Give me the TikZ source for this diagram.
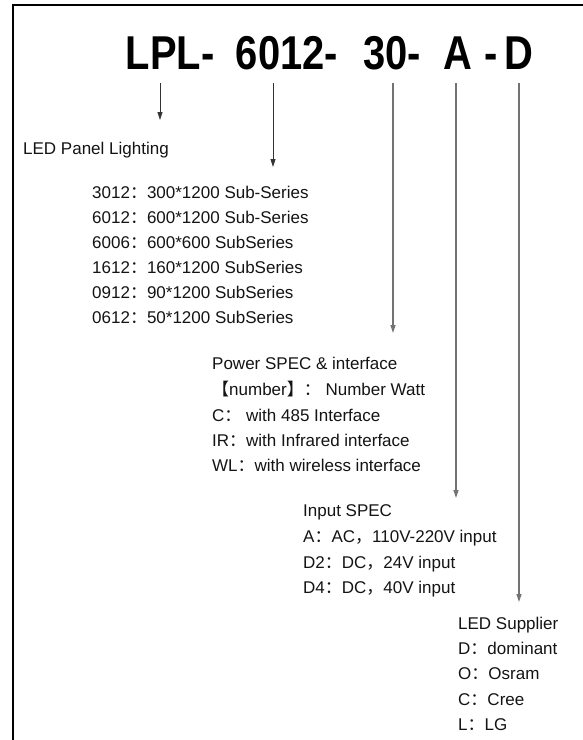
\documentclass[tikz,border=0pt]{standalone}
\usepackage{fontspec}
\setmainfont{Liberation Sans}
\newfontfamily\cjkfont{Noto Sans CJK SC}
\newfontfamily\titlefont[FakeStretch=0.84]{Liberation Sans Bold}
\usetikzlibrary{arrows.meta}
\newcommand{\fc}{{\cjkfont ：}}
\newcommand{\fcomma}{{\cjkfont ，}}
\begin{document}
\begin{tikzpicture}[x=1pt,y=-1pt,
  body/.style={anchor=base west,inner sep=0pt,font=\fontsize{17}{17}\selectfont,text=black!92},
  ttl/.style={anchor=base,inner sep=0pt,font=\titlefont\fontsize{47.5}{47.5}\selectfont,text=black},
  arrs/.style={draw=black!80,line width=0.8pt,-{Triangle[length=8pt,width=5pt]}},
  arrl/.style={draw=black!55,line width=1.3pt,-{Triangle[length=8pt,width=5pt]}},
  frame/.style={draw=black,line width=1.6pt}]
\useasboundingbox (0,0) rectangle (583,740);
\fill[white] (0,0) rectangle (583,740);
% frame
\draw[frame] (583,5) -- (13,5) -- (13,740);
% title
\node[ttl] (t1) at (170,69) {LPL-};
\node[ttl] (t2) at (287,69) {6012-};
\node[ttl] (t3) at (392,69) {30-};
\node[ttl] (t4) at (457.5,69) {A};
\node[ttl] (t5) at (491,69) {-};
\node[ttl] (t6) at (518.5,69) {D};
% arrow ends
\coordinate (a1s) at (160,83); \coordinate (a1e) at (160,120);
\coordinate (a2s) at (273,83); \coordinate (a2e) at (273,167);
\coordinate (a3s) at (393,83); \coordinate (a3e) at (393,333);
\coordinate (a4s) at (456,83); \coordinate (a4e) at (456,498);
\coordinate (a5s) at (519,83); \coordinate (a5e) at (519,602);
\draw[arrs] (a1s) -- (a1e);
\draw[arrs] (a2s) -- (a2e);
\draw[arrl] (a3s) -- (a3e);
\draw[arrl] (a4s) -- (a4e);
\draw[arrl] (a5s) -- (a5e);
% LED panel lighting
\node[body] (led) at (23,154) {LED Panel Lighting};
% sub-series
\node[body] (s1) at (92,198) {3012\fc 300*1200 Sub-Series};
\node[body] (s2) at (92,223) {6012\fc 600*1200 Sub-Series};
\node[body] (s3) at (92,248) {6006\fc 600*600 SubSeries};
\node[body] (s4) at (92,273) {1612\fc 160*1200 SubSeries};
\node[body] (s5) at (92,298) {0912\fc 90*1200 SubSeries};
\node[body] (s6) at (92,323) {0612\fc 50*1200 SubSeries};
% power spec
\node[body] (p0) at (212,369) {Power SPEC \& interface};
\node[body] (p1) at (212,395) {{\cjkfont 【}number{\cjkfont 】}\fc\ Number Watt};
\node[body] (p2) at (212,421) {C\fc\ with 485 Interface};
\node[body] (p3) at (212,446) {IR\fc with Infrared interface};
\node[body] (p4) at (212,471) {WL\fc with wireless interface};
% input spec
\node[body] (i0) at (303,516) {Input SPEC};
\node[body] (i1) at (303,542) {A\fc AC\fcomma 110V-220V input};
\node[body] (i2) at (303,568) {D2\fc DC\fcomma 24V input};
\node[body] (i3) at (303,593) {D4\fc DC\fcomma 40V input};
% led supplier
\node[body] (l0) at (458,629) {LED Supplier};
\node[body] (l1) at (458,654) {D\fc dominant};
\node[body] (l2) at (458,679) {O\fc Osram};
\node[body] (l3) at (458,705) {C\fc Cree};
\node[body] (l4) at (458,730) {L\fc LG};
\end{tikzpicture}
\end{document}
